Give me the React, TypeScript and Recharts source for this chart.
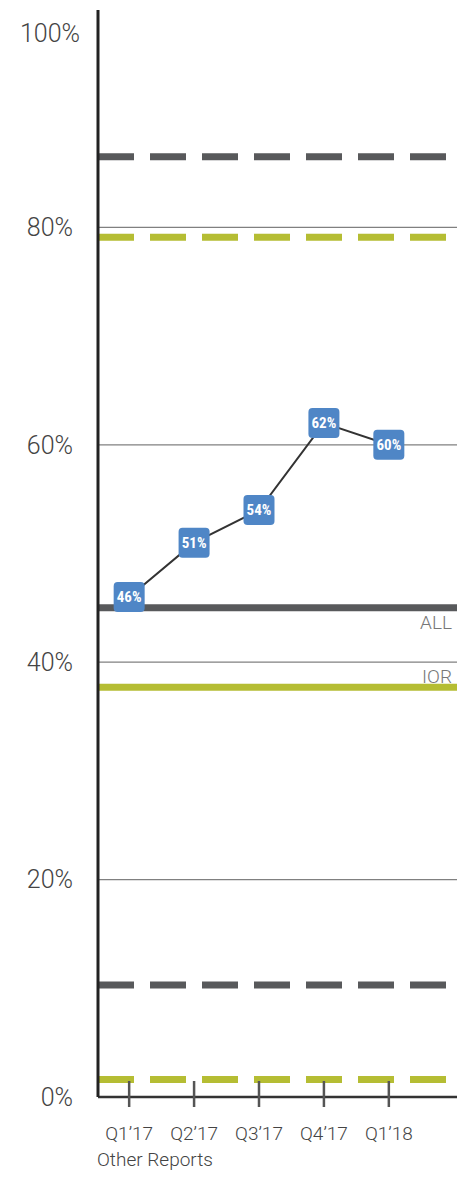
import React from "react";
import { ComposedChart, Line, XAxis, YAxis, ReferenceLine } from "recharts";

const quarters = ["Q1’17", "Q2’17", "Q3’17", "Q4’17", "Q1’18"];
const scores = [46, 51, 54, 62, 60];
const yTicks = [0, 20, 40, 60, 80, 100];
const gridValues = [20, 40, 60, 80];

// benchmark bands: dashed = range bounds, solid = average
const allRange = [86.5, 10.3];
const allAverage = 45;
const iorRange = [79.1, 1.6];
const iorAverage = 37.7;

const DARK = "#58595b";
const GREEN = "#b5bd33";
const BLUE = "#4f86c6";
const TEXT = "#444";
const FONT = "Roboto, 'Open Sans', sans-serif";

const data = quarters.map((q, i) => ({ x: i + 1, name: q, value: scores[i] }));

const YTick = ({ x, y, payload }: any) => {
  const top = payload.value === 100;
  return (
    <text
      x={top ? x - 18 : x - 25}
      y={top ? y + 23 : y}
      dy="0.35em"
      textAnchor="end"
      fill={TEXT}
      fontFamily={FONT}
      fontWeight={300}
      fontSize={25}
    >
      {payload.value}%
    </text>
  );
};

const XTick = ({ x, y, payload }: any) => (
  <g>
    <line x1={x} x2={x} y1={y - 16} y2={y + 10} stroke="#555" strokeWidth={2.5} />
    <text
      x={x}
      y={y + 43}
      textAnchor="middle"
      fill={TEXT}
      fontFamily={FONT}
      fontWeight={300}
      fontSize={19}
    >
      {quarters[payload.value - 1]}
    </text>
  </g>
);

const PointBox = ({ x, y, value }: any) => (
  <g>
    <rect x={x - 15.5} y={y - 15} width={31} height={30} rx={4} fill={BLUE} />
    <text
      x={x}
      y={y}
      dy="0.36em"
      textAnchor="middle"
      fill="#fff"
      fontFamily="'Liberation Sans Narrow', 'Roboto Condensed', Roboto, sans-serif"
      fontWeight={700}
      fontSize={15}
    >
      {value}%
    </text>
  </g>
);

const sideLabel = (text: string, offset: number) => ({ viewBox }: any) => (
  <text
    x={viewBox.x + viewBox.width - 5}
    y={viewBox.y + offset}
    textAnchor="end"
    fill="#777"
    fontFamily={FONT}
    fontWeight={300}
    fontSize={19}
  >
    {text}
  </text>
);

export default function App() {
  return (
    <div style={{ width: 458, fontFamily: FONT }}>
      <ComposedChart
        width={458}
        height={1140}
        data={data}
        margin={{ top: 2, right: 9, bottom: 0, left: 0 }}
      >
        <XAxis
          dataKey="x"
          type="number"
          domain={[0.52, 6.05]}
          ticks={[1, 2, 3, 4, 5]}
          interval={0}
          height={51}
          tickSize={0}
          tickMargin={0}
          tickLine={false}
          axisLine={{ stroke: "#333", strokeWidth: 2.5 }}
          tick={<XTick />}
        />
        <YAxis
          type="number"
          domain={[0, 100]}
          ticks={yTicks}
          interval={0}
          width={90}
          tickSize={0}
          tickMargin={0}
          tickLine={false}
          axisLine={{ stroke: "#222", strokeWidth: 3 }}
          tick={<YTick />}
        />
        {gridValues.map((v) => (
          <ReferenceLine key={`g${v}`} y={v} stroke="#808080" strokeWidth={1.3} />
        ))}
        {allRange.map((v) => (
          <ReferenceLine key={`a${v}`} y={v} stroke={DARK} strokeWidth={7} strokeDasharray="36 16" />
        ))}
        {iorRange.map((v) => (
          <ReferenceLine key={`i${v}`} y={v} stroke={GREEN} strokeWidth={7} strokeDasharray="36 16" />
        ))}
        <ReferenceLine y={allAverage} stroke={DARK} strokeWidth={7} label={sideLabel("ALL", 21)} />
        <ReferenceLine y={iorAverage} stroke={GREEN} strokeWidth={7} label={sideLabel("IOR", -4)} />
        <Line
          dataKey="value"
          stroke="#333"
          strokeWidth={2}
          dot={false}
          activeDot={false}
          isAnimationActive={false}
          label={<PointBox />}
        />
      </ComposedChart>
      <div
        style={{
          marginTop: 2,
          paddingLeft: 89,
          lineHeight: "20px",
          fontSize: 19,
          fontWeight: 300,
          color: TEXT,
        }}
      >
        Other Reports
      </div>
    </div>
  );
}
